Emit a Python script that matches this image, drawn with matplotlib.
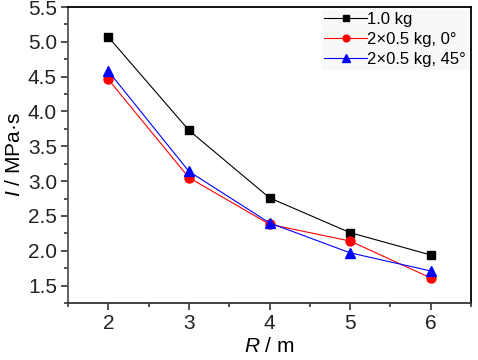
import matplotlib
matplotlib.use("Agg")
import matplotlib.pyplot as plt
from matplotlib.ticker import MultipleLocator

fam = "Liberation Sans"
plt.rcParams['font.family'] = [fam, 'DejaVu Sans']
plt.rcParams['mathtext.fontset'] = 'custom'
plt.rcParams['mathtext.it'] = fam + ':italic'
plt.rcParams['mathtext.rm'] = fam

R = [2, 3, 4, 5, 6]
I_1kg = [5.07, 3.73, 2.76, 2.26, 1.94]
I_2x05_0 = [4.46, 3.05, 2.38, 2.14, 1.61]
I_2x05_45 = [4.58, 3.14, 2.40, 1.97, 1.71]
labels = ["1.0 kg", "2\u00d70.5 kg, 0\u00b0", "2\u00d70.5 kg, 45\u00b0"]

fig = plt.figure(figsize=(4.78, 3.6), dpi=100)
ax = fig.add_axes([68/478, 1-303/360, (471-68)/478, (303-7)/360])

ax.plot(R, I_1kg, color='black', lw=0.8, marker='s', ms=6, label=labels[0])
ax.plot(R, I_2x05_0, color='red', lw=0.8, marker='o', ms=6.5, label=labels[1])
ax.plot(R, I_2x05_45, color='blue', lw=0.8, marker='^', ms=7, label=labels[2])

ax.set_xlim(1.5, 6.5)
ax.set_ylim(1.25, 5.5)
ax.xaxis.set_major_locator(MultipleLocator(1))
ax.xaxis.set_minor_locator(MultipleLocator(0.5))
ax.yaxis.set_major_locator(MultipleLocator(0.5))
ax.yaxis.set_minor_locator(MultipleLocator(0.25))
ax.yaxis.set_major_formatter(matplotlib.ticker.FormatStrFormatter('%.1f'))
ax.tick_params(which='both', direction='out', colors='#333333', labelsize=15)
ax.tick_params(which='major', length=5, width=1.2, pad=3)
ax.tick_params(which='minor', length=3, width=1.2)
ax.tick_params(axis='both', labelcolor='#222222')
ax.spines['left'].set_color('#555555')
ax.spines['bottom'].set_color('#333333')
for s in ax.spines.values():
    s.set_linewidth(1.3)

ax.set_xlabel(r'$\mathit{R}$ / m', fontsize=15, labelpad=3)
ax.set_ylabel(r'$\mathit{I}$ / MPa·s', fontsize=15, labelpad=3)

leg = ax.legend(loc='upper right', fontsize=12, frameon=True, framealpha=1,
                facecolor='#f8f8f8', edgecolor='none', handlelength=2.6,
                handletextpad=0.0, borderpad=0.15, labelspacing=0.3,
                borderaxespad=0.15, fancybox=False, markerscale=0.75)

fig.savefig('out.png', dpi=100)
